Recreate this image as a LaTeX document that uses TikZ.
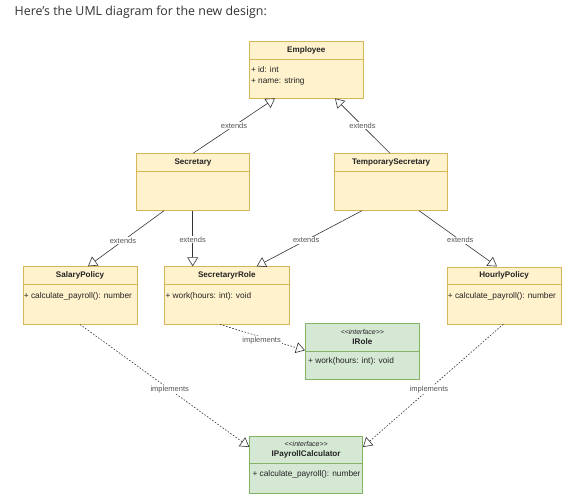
\documentclass[tikz,border=0pt]{standalone}
\usepackage{fontspec}
\setmainfont{Liberation Sans}
\newfontfamily\uifont{Open Sans}
\usetikzlibrary{calc,arrows.meta}
\definecolor{yfill}{HTML}{FFF2CC}
\definecolor{ydraw}{HTML}{D6B656}
\definecolor{gfill}{HTML}{D5E8D4}
\definecolor{gdraw}{HTML}{82B366}
\definecolor{ink}{HTML}{222222}
\definecolor{lbl}{HTML}{555555}
\definecolor{edge}{HTML}{333333}
\tikzset{
  ybox/.style={draw=ydraw, fill=yfill, anchor=north west, inner sep=0pt, line width=0.7pt},
  gbox/.style={draw=gdraw, fill=gfill, anchor=north west, inner sep=0pt, line width=0.7pt},
  ysep/.style={draw=ydraw, line width=0.7pt},
  gsep/.style={draw=gdraw, line width=0.7pt},
  hdr/.style={font=\fontsize{8.1}{9}\selectfont\bfseries, text=ink, inner sep=0pt},
  ster/.style={font=\fontsize{7}{8}\selectfont\itshape, text=ink, inner sep=0pt},
  mem/.style={font=\fontsize{8.3}{9}\selectfont, text=ink, anchor=west, inner sep=0pt},
  gen/.style={draw=edge, line width=0.6pt, -{Triangle[open, length=9pt, width=11pt]}},
  real/.style={gen, dash pattern=on 1.6pt off 1.6pt},
  elbl/.style={fill=white, font=\fontsize{7.5}{8}\selectfont, text=lbl, inner sep=0.8pt}
}
\begin{document}
\begin{tikzpicture}[x=1pt, y=-1pt]
\useasboundingbox (0,0) rectangle (568,503);
\node[anchor=west, font=\uifont\fontsize{12.4}{14}\selectfont, text=black!80, inner sep=0pt] (title) at (14.5,12.5) {Here’s the UML diagram for the new design:};

% Employee
\node[ybox, minimum width=113.4pt, minimum height=56.7pt] (emp) at (249.3,41) {};
\draw[ysep] ($(emp.north west)+(0,18.3)$) -- ($(emp.north east)+(0,18.3)$);
\node[hdr] (empt) at ($(emp.north)+(0,9)$) {Employee};
\node[mem] (emp1) at ($(emp.north west)+(1.5,29)$) {+ id: int};
\node[mem] (emp2) at ($(emp.north west)+(1.5,40)$) {+ name: string};

% Secretary
\node[ybox, minimum width=113.3pt, minimum height=56.7pt] (sec) at (136,153.3) {};
\draw[ysep] ($(sec.north west)+(0,18.4)$) -- ($(sec.north east)+(0,18.4)$);
\node[hdr] (sect) at ($(sec.north)+(0,9)$) {Secretary};

% TemporarySecretary
\node[ybox, minimum width=113pt, minimum height=56.7pt] (tmp) at (334.3,153.3) {};
\draw[ysep] ($(tmp.north west)+(0,18.4)$) -- ($(tmp.north east)+(0,18.4)$);
\node[hdr] (tmpt) at ($(tmp.north)+(0,9)$) {TemporarySecretary};

% SalaryPolicy
\node[ybox, minimum width=114pt, minimum height=57.5pt] (sal) at (22.7,266.3) {};
\draw[ysep] ($(sal.north west)+(0,18.3)$) -- ($(sal.north east)+(0,18.3)$);
\node[hdr] (salt) at ($(sal.north)+(0,9)$) {SalaryPolicy};
\node[mem] (sal1) at ($(sal.north west)+(1,30)$) {+ calculate\_payroll(): number};

% SecretaryrRole
\node[ybox, minimum width=124.4pt, minimum height=57.5pt] (role) at (164.3,266.3) {};
\draw[ysep] ($(role.north west)+(0,18.3)$) -- ($(role.north east)+(0,18.3)$);
\node[hdr] (rolet) at ($(role.north)+(0,9)$) {SecretaryrRole};
\node[mem] (role1) at ($(role.north west)+(1,30)$) {+ work(hours: int): void};

% HourlyPolicy
\node[ybox, minimum width=114pt, minimum height=57pt] (hour) at (446.7,266.5) {};
\draw[ysep] ($(hour.north west)+(0,18.3)$) -- ($(hour.north east)+(0,18.3)$);
\node[hdr] (hourt) at ($(hour.north)+(0,9)$) {HourlyPolicy};
\node[mem] (hour1) at ($(hour.north west)+(1,30)$) {+ calculate\_payroll(): number};

% IRole
\node[gbox, minimum width=114pt, minimum height=56pt] (irole) at (305,323.3) {};
\draw[gsep] ($(irole.north west)+(0,28.4)$) -- ($(irole.north east)+(0,28.4)$);
\node[ster] (irs) at ($(irole.north)+(0,8.5)$) {<{}<interface>{}>};
\node[hdr] (irt) at ($(irole.north)+(0,18.5)$) {IRole};
\node[mem] (ir1) at ($(irole.north west)+(3,38.5)$) {+ work(hours: int): void};

% IPayrollCalculator
\node[gbox, minimum width=113pt, minimum height=56.7pt] (ipay) at (249.3,436) {};
\draw[gsep] ($(ipay.north west)+(0,27.3)$) -- ($(ipay.north east)+(0,27.3)$);
\node[ster] (ips) at ($(ipay.north)+(0,8.3)$) {<{}<interface>{}>};
\node[hdr] (ipt) at ($(ipay.north)+(0,18)$) {IPayrollCalculator};
\node[mem] (ip1) at ($(ipay.north west)+(3,38)$) {+ calculate\_payroll(): number};

% generalizations
\draw[gen] ($(sec.north west)+(57,0)$) -- node[elbl, pos=0.5] (l1) {extends} ($(emp.south west)+(25.7,0)$);
\draw[gen] ($(tmp.north west)+(55.7,0)$) -- node[elbl, pos=0.5] (l2) {extends} ($(emp.south west)+(85.7,0)$);
\draw[gen] ($(sec.south west)+(28,0)$) -- node[elbl, pos=0.54] (l3) {extends} ($(sal.north west)+(65.3,0)$);
\draw[gen] ($(sec.south west)+(56.7,0)$) -- node[elbl, pos=0.52] (l4) {extends} ($(role.north west)+(28.4,0)$);
\draw[gen] ($(tmp.south west)+(27.7,0)$) -- node[elbl, pos=0.53] (l5) {extends} ($(role.north west)+(92.4,0)$);
\draw[gen] ($(tmp.south west)+(84.7,0)$) -- node[elbl, pos=0.53] (l6) {extends} ($(hour.north west)+(50.3,0)$);

% realizations
\draw[real] ($(sal.south west)+(57.3,0)$) -- node[elbl, pos=0.53] (l7) {implements} ($(ipay.north west)+(0,11)$);
\draw[real] ($(role.south west)+(55.7,0)$) -- node[elbl, pos=0.49, yshift=-3pt] (l8) {implements} ($(irole.north west)+(0,27)$);
\draw[real] ($(hour.south west)+(56.6,0)$) -- node[elbl, pos=0.53] (l9) {implements} ($(ipay.north east)+(0,11)$);
\end{tikzpicture}
\end{document}
